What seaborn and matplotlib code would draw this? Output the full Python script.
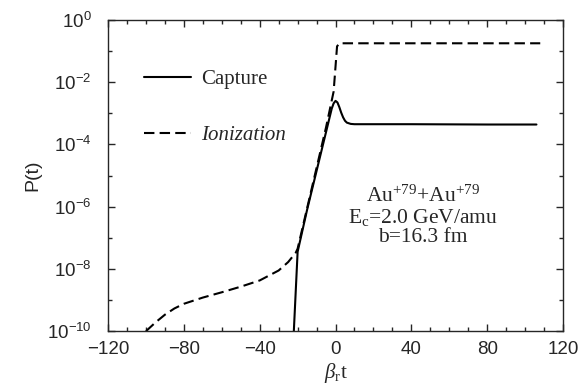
import numpy as np
import pandas as pd
import matplotlib
matplotlib.use("Agg")
import matplotlib.pyplot as plt
import seaborn as sns
from matplotlib.ticker import MultipleLocator, NullFormatter, LogFormatterMathtext

# datos (log10 de P)
x_ion = [-100, -95, -90, -85, -80, -70, -60, -50, -40, -30, -25, -21, -20,
         -15, -10, -5, -1, 0.8, 2, 10, 40, 80, 108]
logp_ion = [-10, -9.72, -9.47, -9.27, -9.12, -8.92, -8.75, -8.57, -8.37, -8.05,
            -7.78, -7.48, -7.35, -6.05, -4.75, -3.45, -2.3, -0.85, -0.75,
            -0.75, -0.75, -0.75, -0.75]

x_cap = [-22, -20, -15, -10, -5, -2, -1, 0, 1, 2, 3, 4, 5, 6, 8, 10, 40, 80, 106]
logp_cap = [-10, -7.45, -6.1, -4.85, -3.6, -2.85, -2.68, -2.6, -2.65, -2.8,
            -2.98, -3.13, -3.24, -3.3, -3.34, -3.35, -3.35, -3.36, -3.36]

y_major = [1e-10, 1e-8, 1e-6, 1e-4, 1e-2, 1]
y_minor = [1e-9, 1e-7, 1e-5, 1e-3, 1e-1]

df_ion = pd.DataFrame({"t": x_ion, "P": 10 ** np.array(logp_ion)})
df_cap = pd.DataFrame({"t": x_cap, "P": 10 ** np.array(logp_cap)})

sns.set_style("ticks")
plt.rcParams["font.family"] = ["Liberation Sans", "DejaVu Sans"]
plt.rcParams["mathtext.fontset"] = "custom"
plt.rcParams["mathtext.rm"] = "Liberation Serif"
plt.rcParams["mathtext.it"] = "Liberation Serif:italic"

fig = plt.figure(figsize=(5.81, 3.91), dpi=100)
ax = fig.add_axes([0.186, 0.153, 0.783, 0.796])

sns.lineplot(data=df_cap, x="t", y="P", ax=ax, color="black", lw=1.5,
             sort=False, label="Capture")
sns.lineplot(data=df_ion, x="t", y="P", ax=ax, color="black", lw=1.5,
             sort=False, label="Ionization", linestyle=(0, (5, 2.5)))

ax.set_yscale("log")
ax.set_xlim(-120, 120)
ax.set_ylim(1e-10, 1)
ax.xaxis.set_major_locator(MultipleLocator(40))
ax.xaxis.set_minor_locator(MultipleLocator(10))
ax.set_yticks(y_major)
ax.set_yticks(y_minor, minor=True)
ax.yaxis.set_major_formatter(LogFormatterMathtext())
ax.yaxis.set_minor_formatter(NullFormatter())
ax.tick_params(which="both", direction="in", top=True, right=True,
               labelsize=13.5, width=1)
ax.tick_params(axis="y", which="major", pad=12)
ax.tick_params(axis="x", which="major", pad=7)
ax.tick_params(which="major", length=5)
ax.tick_params(which="minor", length=3)
for s in ax.spines.values():
    s.set_linewidth(1)

ax.set_xlabel(r"$\beta_{\mathrm{r}}$t", family="Liberation Serif", fontsize=15, labelpad=2)
ax.set_ylabel("P(t)", fontsize=14, labelpad=4)

leg = ax.legend(frameon=False, loc="upper left", bbox_to_anchor=(0.078, 0.84),
                borderpad=0, borderaxespad=0, handlelength=2.3,
                handletextpad=0.45, labelspacing=1.75,
                prop={"family": "Liberation Serif", "size": 15})
leg.get_texts()[1].set_style("italic")

ax.text(46, 5e-7, r"Au$^{+79}$+Au$^{+79}$" + "\n" + r"E$_\mathrm{c}$=2.0 GeV/amu" + "\n" + "b=16.3 fm",
        ha="center", va="center", family="Liberation Serif", fontsize=15.5,
        linespacing=1.0)

fig.savefig("out.png", dpi=100)
